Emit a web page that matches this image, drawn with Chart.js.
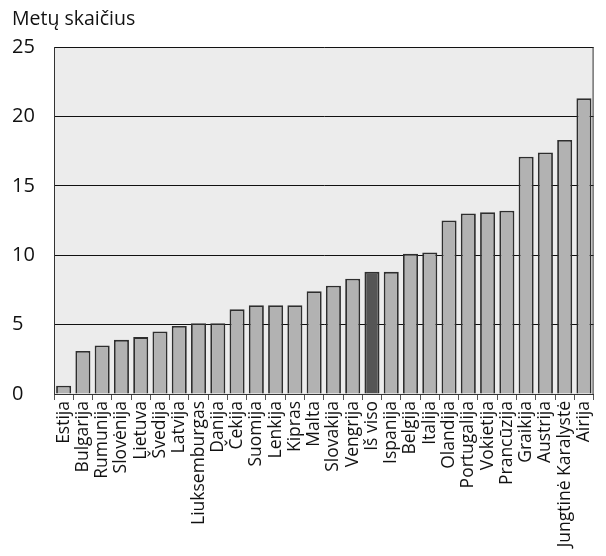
<!DOCTYPE html>
<html>
<head>
<meta charset="utf-8">
<script src="https://cdn.jsdelivr.net/npm/chart.js@4.4.1/dist/chart.umd.min.js"></script>
<style>
  html, body { margin: 0; padding: 0; background: #fff; }
  #wrap { width: 606px; height: 556px; position: relative; }
</style>
</head>
<body>
<div id="wrap"><canvas id="c" width="606" height="556"></canvas></div>
<script>
// Countries ordered by value, with the overall figure ("Iš viso") among them
const categories = [
  "Estija", "Bulgarija", "Rumunija", "Slovėnija", "Lietuva", "Švedija", "Latvija",
  "Liuksemburgas", "Danija", "Čekija", "Suomija", "Lenkija", "Kipras", "Malta",
  "Slovakija", "Vengrija", "Iš viso", "Ispanija", "Belgija", "Italija", "Olandija",
  "Portugalija", "Vokietija", "Prancūzija", "Graikija", "Austrija",
  "Jungtinė Karalystė", "Airija"
];
const years = [
  0.6, 3.1, 3.5, 3.9, 4.1, 4.5, 4.9,
  5.1, 5.1, 6.1, 6.4, 6.4, 6.4, 7.4,
  7.8, 8.3, 8.8, 8.8, 10.1, 10.2, 12.5,
  13.0, 13.1, 13.2, 17.1, 17.4,
  18.3, 21.3
];
const yTicks = [0, 5, 10, 15, 20, 25];
const axisTitle = "Metų skaičius";
const totalLabel = "Iš viso";

const FONT = "'Open Sans', 'Noto Sans', sans-serif";

const barColors = categories.map(c => c === totalLabel ? "#555555" : "#b2b2b2");

// Grey plot background and the right frame of the plot area
const plotFrame = {
  id: "plotFrame",
  beforeDraw(chart) {
    const { ctx, chartArea: a } = chart;
    ctx.save();
    ctx.fillStyle = "#ececec";
    ctx.fillRect(a.left, a.top, a.right - a.left, a.bottom - a.top);
    ctx.restore();
  },
  afterDraw(chart) {
    const { ctx, chartArea: a } = chart;
    ctx.save();
    ctx.strokeStyle = "#333";
    ctx.lineWidth = 1;
    ctx.beginPath();
    ctx.moveTo(a.right - 0.5, a.top);
    ctx.lineTo(a.right - 0.5, a.bottom);
    ctx.stroke();
    // axis title above the value labels
    ctx.fillStyle = "#111";
    ctx.font = "19.5px " + FONT;
    ctx.textBaseline = "alphabetic";
    ctx.textAlign = "left";
    ctx.fillText(axisTitle, 12, 25);
    ctx.restore();
  }
};

new Chart(document.getElementById("c"), {
  type: "bar",
  data: {
    labels: categories,
    datasets: [{
      data: years,
      backgroundColor: barColors,
      borderColor: "#2e2e2e",
      borderWidth: 1.8,
      barPercentage: 0.78,
      categoryPercentage: 1.0
    }]
  },
  options: {
    responsive: false,
    animation: false,
    events: [],
    layout: { padding: { top: 47, right: 3, left: 12, bottom: 0 } },
    plugins: {
      legend: { display: false },
      tooltip: { enabled: false }
    },
    scales: {
      x: {
        offset: true,
        grid: {
          offset: true,
          drawOnChartArea: false,
          drawTicks: true,
          tickLength: 6,
          color: "#555"
        },
        border: { display: true, color: "#333", width: 1 },
        ticks: {
          minRotation: 90,
          maxRotation: 90,
          autoSkip: false,
          padding: 1,
          color: "#111",
          font: { family: FONT, size: 17.5 }
        },
        afterFit(axis) { axis.height = 162; }
      },
      y: {
        min: 0,
        max: 25,
        afterBuildTicks(axis) { axis.ticks = yTicks.map(v => ({ value: v })); },
        grid: {
          color: "#111",
          lineWidth: 1,
          drawTicks: false
        },
        border: { display: true, color: "#333", width: 1 },
        ticks: {
          crossAlign: "far",
          padding: 8,
          color: "#111",
          font: { family: FONT, size: 20 }
        },
        afterFit(axis) { axis.width = 42; }
      }
    }
  },
  plugins: [plotFrame]
});
</script>
</body>
</html>
